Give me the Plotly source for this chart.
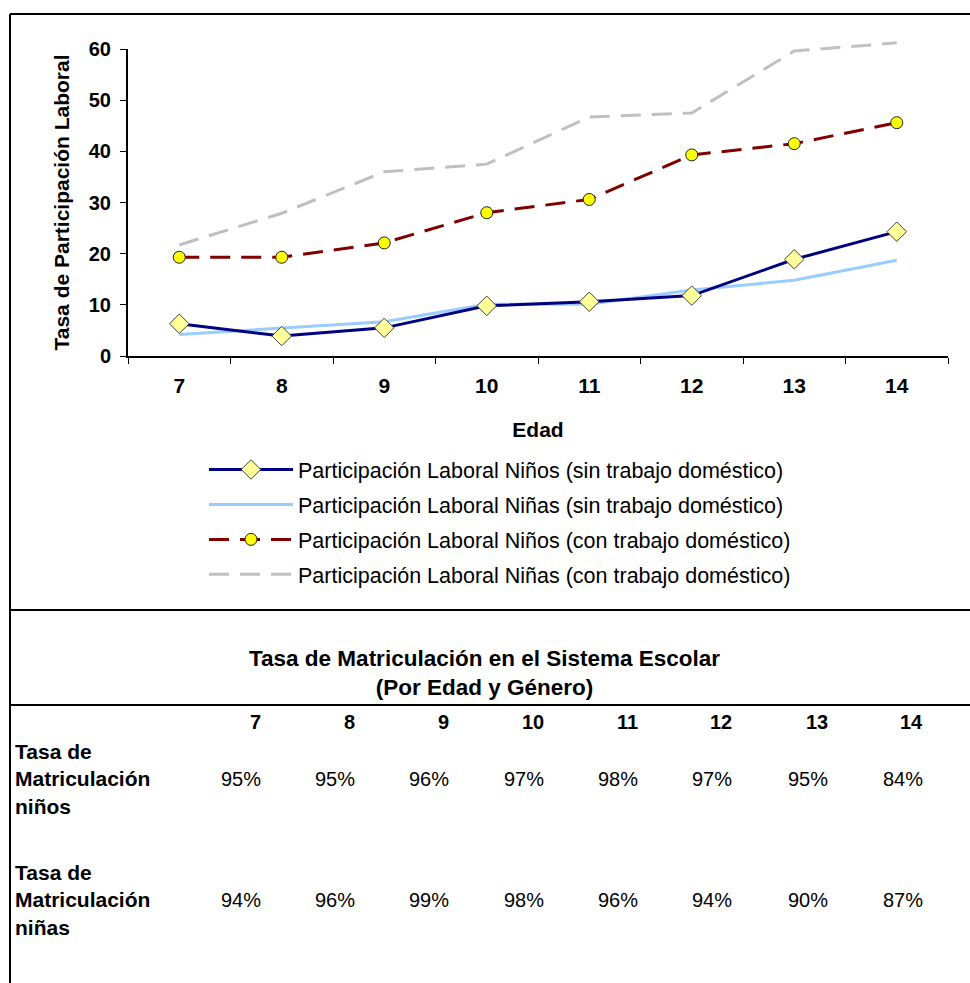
import plotly.graph_objects as go

# ---------------- data ----------------
ages = ["7", "8", "9", "10", "11", "12", "13", "14"]
ninos_sin = [6.3, 3.9, 5.5, 9.8, 10.6, 11.8, 18.9, 24.3]
ninas_sin = [4.2, 5.5, 6.7, 10.1, 10.1, 12.9, 14.8, 18.7]
ninos_con = [19.3, 19.3, 22.1, 28.0, 30.6, 39.3, 41.5, 45.6]
ninas_con = [21.7, 27.9, 36.0, 37.5, 46.7, 47.5, 59.6, 61.2]

name_ninos_sin = "Participación Laboral Niños (sin trabajo doméstico)"
name_ninas_sin = "Participación Laboral Niñas (sin trabajo doméstico)"
name_ninos_con = "Participación Laboral Niños (con trabajo doméstico)"
name_ninas_con = "Participación Laboral Niñas (con trabajo doméstico)"

y_ticks = [0, 10, 20, 30, 40, 50, 60]
y_max = 60

table_title_lines = ["Tasa de Matriculación en el Sistema Escolar", "(Por Edad y Género)"]
table_row_labels = [["Tasa de", "Matriculación", "niños"], ["Tasa de", "Matriculación", "niñas"]]
matric_ninos = ["95%", "95%", "96%", "97%", "98%", "97%", "95%", "84%"]
matric_ninas = ["94%", "96%", "99%", "98%", "96%", "94%", "90%", "87%"]

# ---------------- layout helpers ----------------
W, H = 970, 983
FONT = "Arial, Liberation Sans, sans-serif"

# plot area in pixels
PLOT_L, PLOT_R = 128, 948
PLOT_BOTTOM, PLOT_TOP = 356, 49      # y=0 and y=60
DATA_TOP = 28                         # lines may run a little above the axis top


def px(x):
    return x / W


def py(y):
    return 1 - y / H


def bold_lines(lines):
    return "<br>".join("<b>" + s + "</b>" for s in lines)


# hidden data axis with the same scale as the visible one, but taller so lines above 60 are not clipped
y2_top = y_max * (PLOT_BOTTOM - DATA_TOP) / (PLOT_BOTTOM - PLOT_TOP)

fig = go.Figure()

# invisible trace so that the visible (0-60) axis subplot is drawn
fig.add_trace(go.Scatter(x=ages, y=ninos_sin, mode="none", showlegend=False, hoverinfo="skip"))

fig.add_trace(go.Scatter(
    x=ages, y=ninas_con, name=name_ninas_con, mode="lines", yaxis="y2",
    line=dict(color="#C0C0C0", width=3, dash="20px,11px"),
    legendrank=4, legendgroup="d"))
fig.add_trace(go.Scatter(
    x=ages, y=ninos_con, name=name_ninos_con, mode="lines+markers", yaxis="y2",
    line=dict(color="#800000", width=3, dash="20px,11px"),
    marker=dict(symbol="circle", size=12, color="#FFFF00",
                line=dict(color="#202020", width=1)),
    legendrank=3, legendgroup="c"))
fig.add_trace(go.Scatter(
    x=ages, y=ninas_sin, name=name_ninas_sin, mode="lines", yaxis="y2",
    line=dict(color="#99CCFF", width=3),
    legendrank=2, legendgroup="b"))
fig.add_trace(go.Scatter(
    x=ages, y=ninos_sin, name=name_ninos_sin, mode="lines+markers", yaxis="y2",
    line=dict(color="#000080", width=3),
    marker=dict(symbol="diamond", size=15, color="#FFFF99",
                line=dict(color="#404040", width=1)),
    legendrank=1, legendgroup="a"))

fig.update_layout(
    template="none",
    width=W, height=H,
    margin=dict(l=0, r=0, t=0, b=0, autoexpand=False),
    paper_bgcolor="white", plot_bgcolor="rgba(0,0,0,0)",
    font=dict(family=FONT, color="black", size=20),
    showlegend=True,
    hovermode="closest",
    legend=dict(
        x=px(204), y=py(449), xanchor="left", yanchor="top",
        font=dict(family=FONT, size=21.5, color="black"),
        itemwidth=84, tracegroupgap=4,
        bgcolor="rgba(0,0,0,0)", borderwidth=0,
    ),
    xaxis=dict(
        domain=[px(PLOT_L), px(PLOT_R)], automargin=False, anchor="y",
        type="category", range=[-0.5, 7.5],
        showline=True, linecolor="black", linewidth=2,
        ticks="outside", tickson="boundaries", ticklen=6, tickcolor="black", tickwidth=1,
        ticklabelstandoff=10,
        showgrid=False, zeroline=False,
        tickfont=dict(family=FONT, size=21, color="black", weight="bold"),
        title=dict(text="<b>Edad</b>", font=dict(family=FONT, size=21), standoff=26),
    ),
    yaxis=dict(
        domain=[py(PLOT_BOTTOM), py(PLOT_TOP)], automargin=False, anchor="x",
        range=[0, y_max], tickvals=y_ticks,
        showline=True, linecolor="black", linewidth=2,
        ticks="outside", ticklen=6, tickcolor="black", tickwidth=1,
        ticklabelstandoff=5,
        showgrid=False, zeroline=False,
        tickfont=dict(family=FONT, size=20, color="black", weight="bold"),
        title=dict(text="<b>Tasa de Participación Laboral</b>", font=dict(family=FONT, size=21), standoff=13),
    ),
    yaxis2=dict(
        domain=[py(PLOT_BOTTOM), py(DATA_TOP)], automargin=False, anchor="x",
        range=[0, y2_top], visible=False, showgrid=False, zeroline=False,
    ),
)

# frame lines
line_style = dict(color="black", width=2)
fig.add_shape(type="line", xref="paper", yref="paper", x0=px(10), x1=px(10), y0=py(14), y1=py(983), line=line_style)
fig.add_shape(type="line", xref="paper", yref="paper", x0=px(10), x1=px(970), y0=py(14), y1=py(14), line=line_style)
fig.add_shape(type="line", xref="paper", yref="paper", x0=px(10), x1=px(970), y0=py(610), y1=py(610), line=line_style)
fig.add_shape(type="line", xref="paper", yref="paper", x0=px(10), x1=px(970), y0=py(705), y1=py(705), line=line_style)

# table title
fig.add_annotation(xref="paper", yref="paper", x=px(484), y=py(673), text=bold_lines(table_title_lines),
                   showarrow=False, xanchor="center", yanchor="middle",
                   font=dict(family=FONT, size=22.5, color="black"))

# table columns
col_right = [263, 357, 451, 546, 640, 734, 830, 925]
for i, a in enumerate(ages):
    fig.add_annotation(xref="paper", yref="paper", x=px(col_right[i]), y=py(722), text="<b>" + a + "</b>",
                       showarrow=False, xanchor="right", yanchor="middle",
                       font=dict(family=FONT, size=20, color="black"))
    fig.add_annotation(xref="paper", yref="paper", x=px(col_right[i]), y=py(779), text=matric_ninos[i],
                       showarrow=False, xanchor="right", yanchor="middle",
                       font=dict(family=FONT, size=20, color="black"))
    fig.add_annotation(xref="paper", yref="paper", x=px(col_right[i]), y=py(900), text=matric_ninas[i],
                       showarrow=False, xanchor="right", yanchor="middle",
                       font=dict(family=FONT, size=20, color="black"))

row_y = [779, 900]
for lbl, yy in zip(table_row_labels, row_y):
    fig.add_annotation(xref="paper", yref="paper", x=px(13), y=py(yy),
                       text=bold_lines(lbl),
                       showarrow=False, xanchor="left", yanchor="middle", align="left",
                       font=dict(family=FONT, size=21, color="black"))

post = ("document.body.style.margin='0';document.body.style.overflow='hidden';"
        "var gd=document.getElementById('{plot_id}');gd.style.position='absolute';"
        "gd.style.left='0px';gd.style.top='0px';")
fig.write_html("out.html", post_script=post, config={"displayModeBar": False})
